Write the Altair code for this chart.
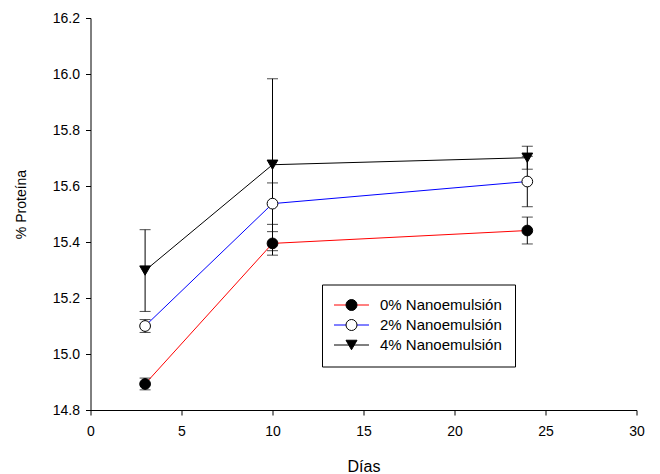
import altair as alt
import pandas as pd

# ---- data ----
dias = [3, 10, 24]
series = ["0% Nanoemulsión", "2% Nanoemulsión", "4% Nanoemulsión"]
marker_keys = ["m0", "m2", "m4"]
prot_0 = [14.893, 15.395, 15.441]
err_0 = [0.021, 0.042, 0.048]
prot_2 = [15.100, 15.537, 15.616]
err_2 = [0.023, 0.074, 0.090]
prot_4 = [15.298, 15.676, 15.701]
err_4 = [0.146, 0.307, 0.041]

x_ticks = [0, 5, 10, 15, 20, 25, 30]
y_ticks = [14.8, 15.0, 15.2, 15.4, 15.6, 15.8, 16.0, 16.2]

line_colors = ["#ff0000", "#0000ff", "#000000"]
marker_fill = ["#000000", "#ffffff", "#000000"]
marker_shape = ["circle", "circle", "triangle-down"]

rows = []
for name, key, vals, errs in zip(series, marker_keys, [prot_0, prot_2, prot_4], [err_0, err_2, err_4]):
    for d, v, e in zip(dias, vals, errs):
        rows.append({"dia": d, "serie": name, "marca": key, "valor": v, "lo": v - e, "hi": v + e})
df = pd.DataFrame(rows)

FONT = "Liberation Sans"

x_enc = alt.X("dia:Q", scale=alt.Scale(domain=[0, 30], nice=False, zero=False),
              axis=alt.Axis(values=x_ticks, title="Días", grid=False, tickSize=5,
                            labelPadding=9, labelFontSize=14, labelFont=FONT,
                            titleFontSize=16, titleFont=FONT, titleFontWeight="normal",
                            titleX=273, titleY=56, titleAlign="center", titleBaseline="middle",
                            domainColor="black", tickColor="black", labelColor="black",
                            titleColor="black", labelFlush=False))
y_axis = alt.Axis(values=y_ticks, format=".1f", title="% Proteína", grid=False, tickSize=5,
                  labelPadding=6, labelFontSize=14, labelFont=FONT,
                  titleFontSize=14, titleFont=FONT, titleFontWeight="normal",
                  titleX=-69, titleY=186, titleAngle=270, titleAlign="center",
                  titleBaseline="middle", domainColor="black", tickColor="black",
                  labelColor="black", titleColor="black", labelFlush=False)
y_scale = alt.Scale(domain=[14.8, 16.2], nice=False, zero=False)

base = alt.Chart(df)

LEG_X = 231.5
LEG_Y = 266.5
PAD = 13
SYM = 121
legend_lines = alt.Legend(orient="none", legendX=LEG_X, legendY=LEG_Y, title=None,
                          symbolType="M-1.545,0H4.818", symbolSize=SYM,
                          symbolStrokeWidth=1, symbolFillColor="transparent",
                          labelFont=FONT, labelFontSize=15, labelColor="black",
                          labelOffset=30, padding=PAD, rowPadding=4,
                          strokeColor="black", cornerRadius=0, zindex=0)
legend_marks = alt.Legend(orient="none", legendX=LEG_X + 9, legendY=LEG_Y, title=None,
                          symbolSize=SYM, symbolStrokeWidth=1,
                          labelFont=FONT, labelFontSize=15, labelExpr="''",
                          labelOffset=30, padding=PAD, rowPadding=4, zindex=1)

lines = base.mark_line(strokeWidth=1).encode(
    x=x_enc,
    y=alt.Y("valor:Q", scale=y_scale, axis=y_axis),
    color=alt.Color("serie:N", scale=alt.Scale(domain=series, range=line_colors),
                    legend=legend_lines),
    order="dia:Q",
)

bars = base.mark_rule(color="black", strokeWidth=1).encode(
    x="dia:Q", y="lo:Q", y2="hi:Q")
caps_lo = base.mark_tick(color="black", orient="horizontal", size=11, thickness=1).encode(
    x="dia:Q", y="lo:Q")
caps_hi = base.mark_tick(color="black", orient="horizontal", size=11, thickness=1).encode(
    x="dia:Q", y="hi:Q")

points = base.mark_point(filled=True, size=115, stroke="black", strokeWidth=1, opacity=1).encode(
    x="dia:Q",
    y="valor:Q",
    shape=alt.Shape("marca:N", scale=alt.Scale(domain=marker_keys, range=marker_shape),
                    legend=legend_marks),
    fill=alt.Fill("marca:N", scale=alt.Scale(domain=marker_keys, range=marker_fill),
                  legend=legend_marks),
)

chart = alt.layer(lines, bars, caps_lo, caps_hi, points).properties(
    width=546, height=392,
    autosize=alt.AutoSizeParams(type="none"),
    padding={"left": 82.5, "top": 10, "right": 15, "bottom": 64},
    background="white",
).configure_view(strokeWidth=0)

chart.save("out.html", embed_options={"renderer": "svg", "actions": False})
